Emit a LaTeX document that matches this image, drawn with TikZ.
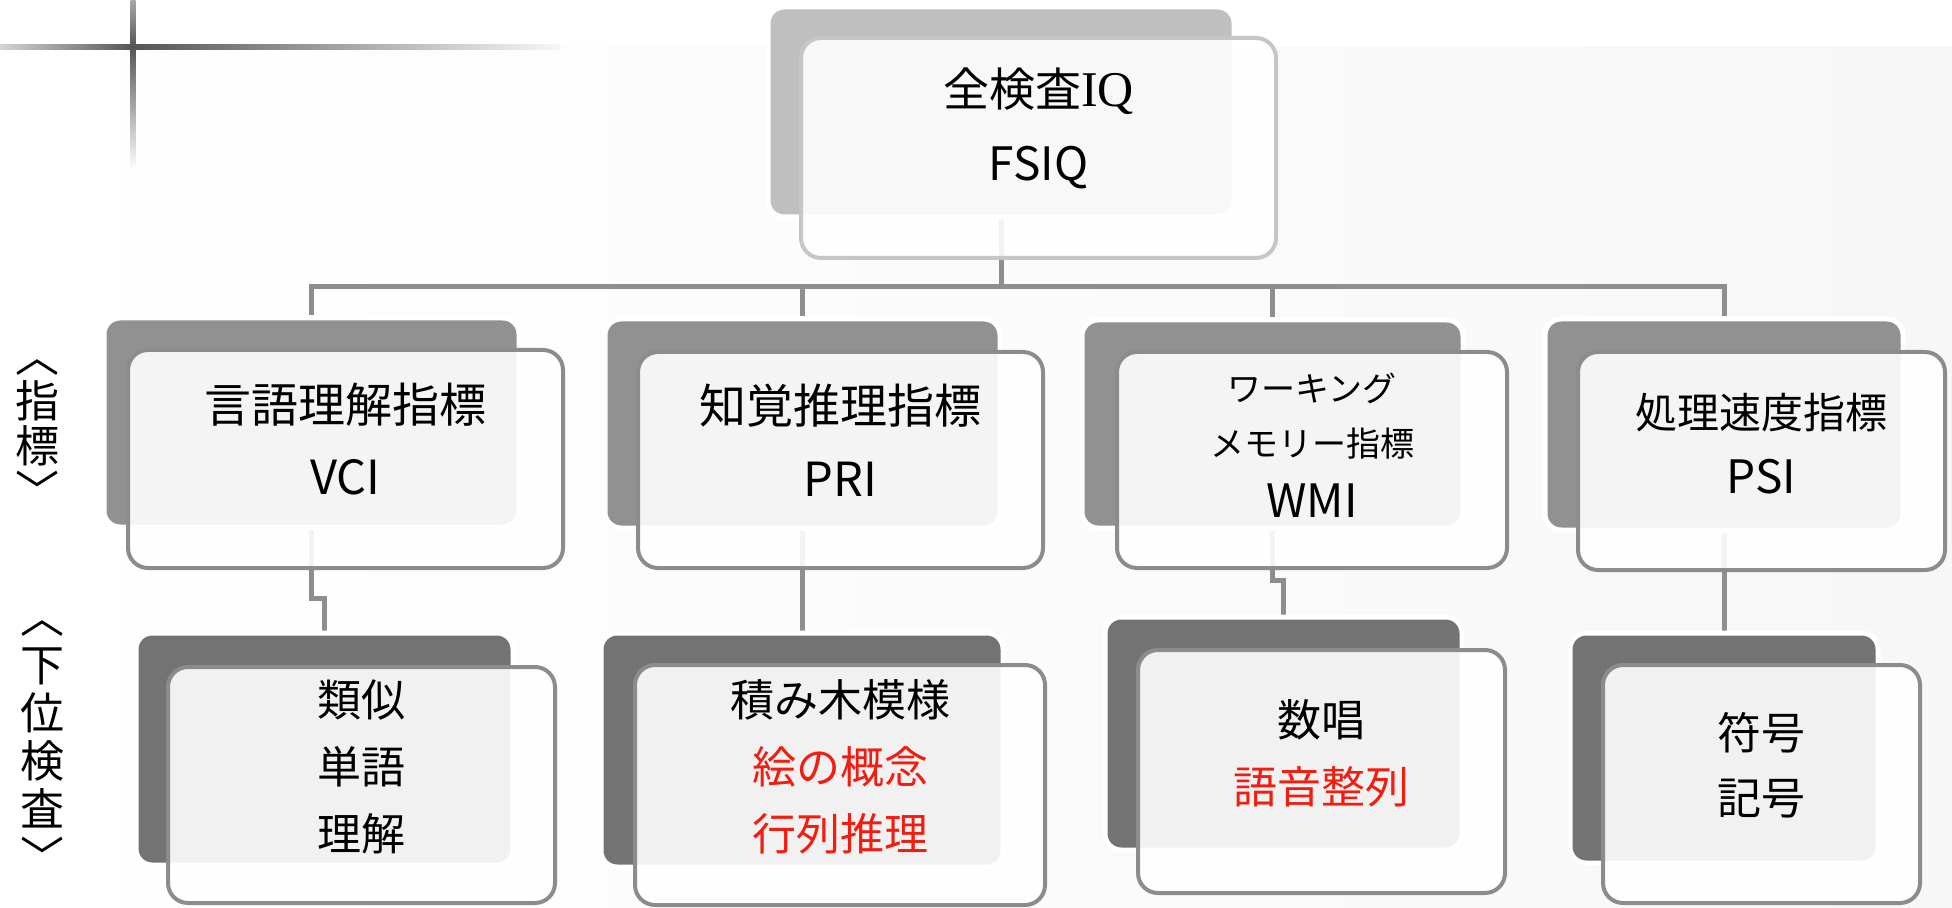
\documentclass[tikz,border=0pt]{standalone}
\usepackage{fontspec}
\setmainfont{Noto Sans CJK JP}
\newfontfamily\iqserif{Liberation Serif}
\usetikzlibrary{fit}
\pgfdeclarelayer{bg}
\pgfsetlayers{bg,main}
\definecolor{bgc}{HTML}{F7F7F7}
\definecolor{topback}{HTML}{BFBFBF}
\definecolor{idxback}{HTML}{919191}
\definecolor{subback}{HTML}{737373}
\definecolor{frameg}{HTML}{8C8C8C}
\definecolor{topframe}{HTML}{C6C6C6}
\definecolor{conng}{HTML}{8E8E8E}
\definecolor{jred}{HTML}{F21C10}
\definecolor{crossdark}{HTML}{555555}
\definecolor{crosslight}{HTML}{D4D4D4}
\definecolor{crossmid}{HTML}{A8A8A8}
\begin{document}
\begin{tikzpicture}[x=0.5pt,y=-0.5pt,
  backbox/.style={draw=white, line width=2.5pt, rounded corners=8pt, inner sep=0pt},
  frontbox/.style={draw=frameg, line width=2pt, fill=white, fill opacity=0.9, text opacity=1, rounded corners=10pt, inner sep=0pt, align=center},
  conn/.style={draw=conng, line width=2.5pt},
  idxfont/.style={font=\fontsize{23.5}{36}\selectfont},
  subfont/.style={font=\fontsize{22}{33.5}\selectfont},
  side/.style={align=center, inner sep=0pt}
]
\useasboundingbox (0,0) rectangle (1952,908);

% top
\node[backbox, fill=topback, fit={(768,7)(1234,217)}] (fsiqb) {};
\node[frontbox, draw=topframe, font=\fontsize{23}{37}\selectfont, fit={(801,38)(1276,258)}] (fsiq) {全検査{\iqserif\fontsize{25}{37}\selectfont IQ}\\FSIQ};

% index level
\node[backbox, fill=idxback, fit={(104,318)(519,527)}] (vcib) {};
\node[frontbox, idxfont, fit={(128,350)(563,568)}] (vci) {言語理解指標\\VCI};
\node[backbox, fill=idxback, fit={(605,319)(1000,528)}] (prib) {};
\node[frontbox, idxfont, fit={(638,352)(1043,568)}] (pri) {知覚推理指標\\PRI};
\node[backbox, fill=idxback, fit={(1082,320)(1463,528)}] (wmib) {};
\node[frontbox, font=\fontsize{17}{27.5}\selectfont, fit={(1117,352)(1507,568)}] (wmi) {ワーキング\\メモリー指標\\[3pt]{\fontsize{23}{27.5}\selectfont WMI}};
\node[backbox, fill=idxback, fit={(1545,319)(1903,530)}] (psib) {};
\node[frontbox, font=\fontsize{21}{32.5}\selectfont, fit={(1578,352)(1945,570)}] (psi) {処理速度指標\\{\fontsize{23}{32.5}\selectfont PSI}};

% subtests
\node[backbox, fill=subback, fit={(136,633)(513,865)}] (vcisb) {};
\node[frontbox, subfont, fit={(168,667)(555,903)}] (vcis) {類似\\単語\\理解};
\node[backbox, fill=subback, fit={(601,633)(1003,867)}] (prisb) {};
\node[frontbox, subfont, fit={(635,665)(1045,905)}] (pris) {積み木模様\\\textcolor{jred}{絵の概念}\\\textcolor{jred}{行列推理}};
\node[backbox, fill=subback, fit={(1105,617)(1462,850)}] (wmisb) {};
\node[frontbox, subfont, fit={(1138,650)(1505,893)}] (wmis) {数唱\\\textcolor{jred}{語音整列}};
\node[backbox, fill=subback, fit={(1570,633)(1878,863)}] (psisb) {};
\node[frontbox, font=\fontsize{22}{32.5}\selectfont, fit={(1603,665)(1920,903)}] (psis) {符号\\記号};

% side labels
\node[side, font=\fontsize{22}{22.5}\selectfont] (lab1) at (38,434) {︿\\指\\標\\﹀};
\node[side, font=\fontsize{22}{24}\selectfont] (lab2) at (42,747) {︿\\下\\位\\検\\査\\﹀};

\begin{pgfonlayer}{bg}
  \fill[white] (0,0) rectangle (1952,908);
  \shade[left color=white, right color=bgc] (0,47) rectangle (1952,908);
  \fill[white] (0,615) rectangle (107,878);
  % crosshair
  \shade[left color=crosslight, right color=crossdark] (0,44.5) rectangle (133,49.5);
  \shade[left color=crossdark, right color=bgc] (133,44.5) rectangle (560,49.5);
  \shade[top color=crossmid, bottom color=crossdark] (130.5,0) rectangle (135.5,47);
  \shade[top color=crossdark, bottom color=white] (130.5,47) rectangle (135.5,170);
  % connectors
  \coordinate (bus) at (0,287);
  \draw[conn] (fsiqb.south) -- (fsiqb.south |- bus);
  \draw[conn] (vcib.north) -- (vcib.north |- bus) -- (psib.north |- bus) -- (psib.north);
  \draw[conn] (prib.north) -- (prib.north |- bus);
  \draw[conn] (wmib.north) -- (wmib.north |- bus);
  \coordinate (j1) at (0,598);
  \draw[conn] (vcib.south) -- (vcib.south |- j1) -| (vcisb.north);
  \draw[conn] (prib.south) -- (prib.south |- prisb.north);
  \coordinate (j2) at (0,580);
  \draw[conn] (wmib.south) -- (wmib.south |- j2) -| (wmisb.north);
  \draw[conn] (psib.south) -- (psib.south |- psisb.north);
\end{pgfonlayer}
\end{tikzpicture}
\end{document}
